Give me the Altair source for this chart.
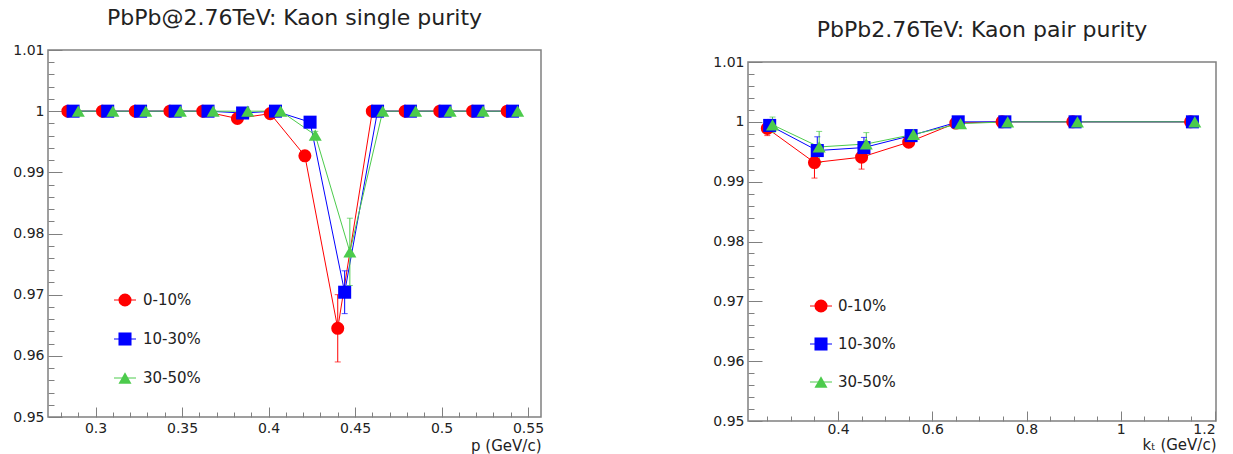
import altair as alt
import pandas as pd

SERIES = ["0-10%", "10-30%", "30-50%"]
COLORS = ["#ff0000", "#0000ff", "#4ccb4c"]
SHAPES = ["circle", "square", "triangle-up"]

# ---- left panel: single purity vs p ----
p_red = [0.284, 0.304, 0.323, 0.343, 0.362, 0.382, 0.401, 0.421, 0.440, 0.460, 0.479, 0.499, 0.518, 0.538]
p_blue = [0.287, 0.307, 0.326, 0.346, 0.365, 0.385, 0.404, 0.424, 0.444, 0.463, 0.482, 0.502, 0.521, 0.541]
p_green = [0.290, 0.310, 0.329, 0.349, 0.368, 0.388, 0.407, 0.427, 0.447, 0.466, 0.485, 0.505, 0.524, 0.544]
single_red = [1, 1, 1, 1, 1, 0.9988, 0.9996, 0.9927, 0.9645, 1, 1, 1, 1, 1]
single_blue = [1, 1, 1, 1, 1, 0.9997, 1, 0.9982, 0.9704, 1, 1, 1, 1, 1]
single_green = [1, 1, 1, 1, 1, 1, 1, 0.9961, 0.9770, 1, 1, 1, 1, 1]
single_err_red = [0, 0, 0, 0, 0, 0.0003, 0.0002, 0.0006, 0.0055, 0, 0, 0, 0, 0]
single_err_blue = [0, 0, 0, 0, 0, 0.0002, 0.0001, 0.0005, 0.0035, 0, 0, 0, 0, 0]
single_err_green = [0, 0, 0, 0, 0, 0, 0, 0.0006, 0.0055, 0, 0, 0, 0, 0]

# ---- right panel: pair purity vs kT ----
kt_red = [0.250, 0.350, 0.450, 0.550, 0.650, 0.748, 0.898, 1.148]
kt_blue = [0.255, 0.356, 0.455, 0.555, 0.655, 0.754, 0.903, 1.152]
kt_green = [0.261, 0.360, 0.460, 0.560, 0.660, 0.760, 0.908, 1.157]
pair_red = [0.9989, 0.9932, 0.9941, 0.9966, 0.9998, 1.0, 1.0, 1.0]
pair_blue = [0.9994, 0.9952, 0.9957, 0.9977, 1.0, 1.0, 1.0, 1.0]
pair_green = [0.9995, 0.9958, 0.9963, 0.9979, 0.9997, 1.0, 1.0, 1.0]
pair_err_red = [0.0012, 0.0026, 0.0020, 0.0008, 0.0002, 0.0001, 0.0001, 0.0001]
pair_err_blue = [0.0010, 0.0023, 0.0017, 0.0007, 0.0002, 0, 0, 0]
pair_err_green = [0.0013, 0.0026, 0.0019, 0.0007, 0.0002, 0, 0, 0]

# ---- axis ticks ----
y_major = [0.95, 0.96, 0.97, 0.98, 0.99, 1.0, 1.01]
y_minor = [round(0.95 + 0.002 * i, 3) for i in range(31) if i % 5 != 0]
p_major = [0.3, 0.35, 0.4, 0.45, 0.5, 0.55]
p_minor = [round(0.28 + 0.01 * i, 2) for i in range(28) if round(0.28 + 0.01 * i, 2) not in p_major]
kt_major = [0.4, 0.6, 0.8, 1.0, 1.2]
kt_minor = [round(0.25 + 0.05 * i, 2) for i in range(20) if round(0.25 + 0.05 * i, 2) not in kt_major]

LAB = "toString(round(datum.value*100)/100)"
TICK_COLOR = "#808080"
TXT = "#222"


def make_df(xs_list, ys_list, es_list):
    rows = []
    for s, xs, ys, es in zip(SERIES, xs_list, ys_list, es_list):
        for x, y, e in zip(xs, ys, es):
            rows.append({"series": s, "x": x, "y": y, "lo": y - e, "hi": y + e})
    return pd.DataFrame(rows)


def panel(df, xdom, xmaj, xmin, xtitle, title, w, h, leg_x, leg_y, leg_text_x, lpad, tpad):
    base = alt.Chart(df)
    xs = alt.Scale(domain=xdom, nice=False, zero=False)
    ys = alt.Scale(domain=[0.95, 1.01], nice=False, zero=False)
    cs = alt.Scale(domain=SERIES, range=COLORS)
    ss = alt.Scale(domain=SERIES, range=SHAPES)

    x_lab = alt.Axis(orient="bottom", values=xmaj, labelExpr=LAB, ticks=False, domain=False,
                     grid=False, title=xtitle, titleAnchor="end", labelPadding=lpad,
                     titlePadding=tpad)
    y_lab = alt.Axis(orient="left", values=y_major, labelExpr=LAB, ticks=False, domain=False,
                     grid=False, title=None, labelPadding=4)
    x_maj = alt.Axis(orient="bottom", values=xmaj, labels=False, domain=False, grid=False,
                     title=None, tickSize=10, offset=-10, tickColor=TICK_COLOR)
    y_maj = alt.Axis(orient="left", values=y_major, labels=False, domain=False, grid=False,
                     title=None, tickSize=14, offset=-14, tickColor=TICK_COLOR)
    x_min = alt.Axis(orient="bottom", values=xmin, labels=False, domain=False, grid=False,
                     title=None, tickSize=5, offset=-5, tickColor=TICK_COLOR)
    y_min = alt.Axis(orient="left", values=y_minor, labels=False, domain=False, grid=False,
                     title=None, tickSize=6, offset=-6, tickColor=TICK_COLOR)

    stroke_nl = alt.Stroke("series:N", scale=cs, legend=None)
    fill_nl = alt.Fill("series:N", scale=cs, legend=None)
    color_nl = alt.Color("series:N", scale=cs, legend=None)
    shape_nl = alt.Shape("series:N", scale=ss, legend=None)

    lines = base.mark_line(strokeWidth=1).encode(
        x=alt.X("x:Q", scale=xs, axis=x_lab),
        y=alt.Y("y:Q", scale=ys, axis=y_lab),
        stroke=stroke_nl,
    )
    bars = base.mark_rule(strokeWidth=1).encode(
        x=alt.X("x:Q", scale=xs, axis=x_maj),
        y=alt.Y("lo:Q", scale=ys, axis=y_maj),
        y2="hi:Q",
        stroke=stroke_nl,
    )
    caps_lo = base.mark_tick(orient="horizontal", size=6, thickness=1).encode(
        x=alt.X("x:Q", scale=xs, axis=x_min),
        y=alt.Y("lo:Q", scale=ys, axis=y_min),
        fill=fill_nl,
    )
    caps_hi = base.mark_tick(orient="horizontal", size=6, thickness=1).encode(
        x=alt.X("x:Q", scale=xs, axis=None),
        y=alt.Y("hi:Q", scale=ys, axis=None),
        fill=fill_nl,
    )
    points = base.mark_point(filled=True, size=170, opacity=1).encode(
        x=alt.X("x:Q", scale=xs, axis=None),
        y=alt.Y("y:Q", scale=ys, axis=None),
        color=color_nl,
        shape=shape_nl,
    )

    # legend drawn as marks (marker with short line + label), one row per series
    leg_base = alt.Chart(pd.DataFrame({"series": SERIES, "rank": [0, 1, 2]}))
    ly = alt.Y("rank:Q", scale=alt.Scale(domain=[0, 2], range=leg_y, nice=False, zero=False),
               axis=None)
    leg_line = leg_base.mark_rule(strokeWidth=1).encode(
        x=alt.value(leg_x - 11), x2=alt.value(leg_x + 11), y=ly, stroke=stroke_nl,
    )
    leg_pts = leg_base.mark_point(filled=True, size=170, opacity=1).encode(
        x=alt.value(leg_x), y=ly, color=color_nl, shape=shape_nl,
    )
    leg_txt = leg_base.mark_text(align="left", baseline="middle", fontSize=15, color=TXT).encode(
        x=alt.value(leg_text_x), y=ly, text="series:N",
    )

    return alt.layer(lines, bars, caps_lo, caps_hi, points, leg_line, leg_pts, leg_txt).resolve_axis(
        x="independent", y="independent"
    ).resolve_scale(y="independent").properties(
        width=w, height=h,
        title=alt.Title(title, fontSize=22, fontWeight="normal", color=TXT, offset=13),
    )


left_df = make_df([p_red, p_blue, p_green], [single_red, single_blue, single_green],
                  [single_err_red, single_err_blue, single_err_green])
right_df = make_df([kt_red, kt_blue, kt_green], [pair_red, pair_blue, pair_green],
                   [pair_err_red, pair_err_blue, pair_err_green])

left = panel(left_df, [0.2725, 0.5575], p_major, p_minor, "p (GeV/c)",
             "PbPb@2.76TeV: Kaon single purity", 493, 367, 77, [250, 328], 95, 4, 3)
right = panel(right_df, [0.209, 1.202], kt_major, kt_minor, "kₜ (GeV/c)",
              "PbPb2.76TeV: Kaon pair purity", 468, 359, 73, [244, 320], 90, 1, 1)


def spacer(hgt):
    return alt.Chart(pd.DataFrame({"a": [0]})).mark_point(opacity=0, size=1).encode(
        x=alt.value(0), y=alt.value(0)
    ).properties(width=10, height=hgt, view=alt.ViewBackground(stroke=None))


chart = alt.hconcat(
    alt.vconcat(spacer(1), left, spacing=0),
    alt.vconcat(spacer(13), right, spacing=0),
    spacing=167,
).properties(
    padding={"left": 12, "top": 4, "right": 0, "bottom": 0}
).configure(font="DejaVu Sans").configure_view(
    stroke=TICK_COLOR, strokeWidth=1.5
).configure_axis(
    labelFont="DejaVu Sans", labelFontSize=14, labelColor=TXT,
    titleFont="DejaVu Sans", titleFontSize=15, titleFontWeight="normal", titleColor=TXT,
)

chart.save("out.html", embed_options={"renderer": "svg", "actions": False})
